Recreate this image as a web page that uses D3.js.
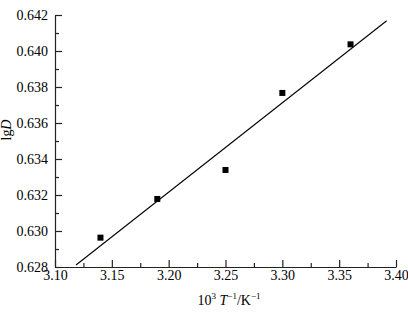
<!DOCTYPE html>
<html>
<head>
<meta charset="utf-8">
<script src="https://cdn.jsdelivr.net/npm/d3@7"></script>
<style>
  body { margin: 0; background: #fff; }
</style>
</head>
<body>
<svg></svg>
<script>
// measured points
var invT = [3.14, 3.19, 3.25, 3.30, 3.36];
var lgD = [0.62963, 0.63178, 0.63339, 0.63767, 0.64037];

// fitted line end points
var fitX = [3.1185, 3.3918];
var fitY = [0.62811, 0.64168];

var xTicks = [3.10, 3.15, 3.20, 3.25, 3.30, 3.35, 3.40];
var yTicks = [0.628, 0.630, 0.632, 0.634, 0.636, 0.638, 0.640, 0.642];

var serif = '"Liberation Serif", "Times New Roman", serif';

function drawChart() {
    var svgWidth = 408, svgHeight = 313;
    var margin = { top: 15, right: 12, bottom: 46, left: 55 };
    var width = svgWidth - margin.left - margin.right;
    var height = svgHeight - margin.top - margin.bottom;

    var svg = d3.select('svg')
        .attr("width", svgWidth)
        .attr("height", svgHeight)
        .style("font-family", serif);

    var g = svg.append("g")
        .attr("transform", "translate(" + margin.left + "," + margin.top + ")");

    var x = d3.scaleLinear().domain([3.10, 3.40]).range([0, width]);
    var y = d3.scaleLinear().domain([0.628, 0.642]).range([height, 0]);

    // minor ticks (halfway between majors)
    var xMinor = d3.range(3.125, 3.40, 0.05);
    var yMinor = d3.range(0.629, 0.642, 0.002);

    var xAxis = g.append("g")
        .attr("transform", "translate(0," + height + ")");
    xAxis.call(d3.axisBottom(x).tickValues(xMinor).tickSize(-4).tickFormat(""))
        .select(".domain").remove();
    xAxis.append("g")
        .call(d3.axisBottom(x).tickValues(xTicks).tickSize(-7).tickSizeOuter(0)
            .tickPadding(3).tickFormat(d3.format(".2f")));

    var yAxis = g.append("g");
    yAxis.call(d3.axisLeft(y).tickValues(yMinor).tickSize(-4).tickFormat(""))
        .select(".domain").remove();
    yAxis.append("g")
        .call(d3.axisLeft(y).tickValues(yTicks).tickSize(-7).tickSizeOuter(0)
            .tickPadding(7).tickFormat(d3.format(".3f")));

    g.selectAll("g").attr("font-family", null).attr("font-size", null);
    g.selectAll(".tick text")
        .style("font-family", serif)
        .style("font-size", "14px")
        .attr("fill", "#000");
    g.selectAll(".domain, .tick line").attr("stroke", "#222").attr("stroke-width", 1.2);

    // axis titles
    var xt = svg.append("text")
        .attr("x", 229).attr("y", 305)
        .attr("text-anchor", "middle")
        .style("font-size", "14px");
    xt.append("tspan").text("10");
    xt.append("tspan").style("font-size", "9px").attr("dy", -6).text("3");
    xt.append("tspan").attr("dy", 6).text(" ");
    xt.append("tspan").attr("font-style", "italic").text("T");
    xt.append("tspan").style("font-size", "9px").attr("dy", -6).text("\u22121");
    xt.append("tspan").attr("dy", 6).text("/K");
    xt.append("tspan").style("font-size", "9px").attr("dy", -6).text("\u22121");

    var yt = svg.append("text")
        .attr("transform", "translate(11,130) rotate(-90)")
        .attr("text-anchor", "middle")
        .style("font-size", "14px");
    yt.append("tspan").text("lg");
    yt.append("tspan").attr("font-style", "italic").text("D");

    // fit line
    var line = d3.line()
        .x(function(d) { return x(d[0]); })
        .y(function(d) { return y(d[1]); });
    g.append("path")
        .datum(d3.zip(fitX, fitY))
        .attr("fill", "none")
        .attr("stroke", "#000")
        .attr("stroke-width", 1.1)
        .attr("d", line);

    // points
    g.selectAll("rect.pt")
        .data(d3.zip(invT, lgD))
        .enter().append("rect")
        .attr("class", "pt")
        .attr("x", function(d) { return x(d[0]) - 3; })
        .attr("y", function(d) { return y(d[1]) - 3; })
        .attr("width", 6)
        .attr("height", 6)
        .attr("fill", "#000");
}

drawChart();
</script>
</body>
</html>
